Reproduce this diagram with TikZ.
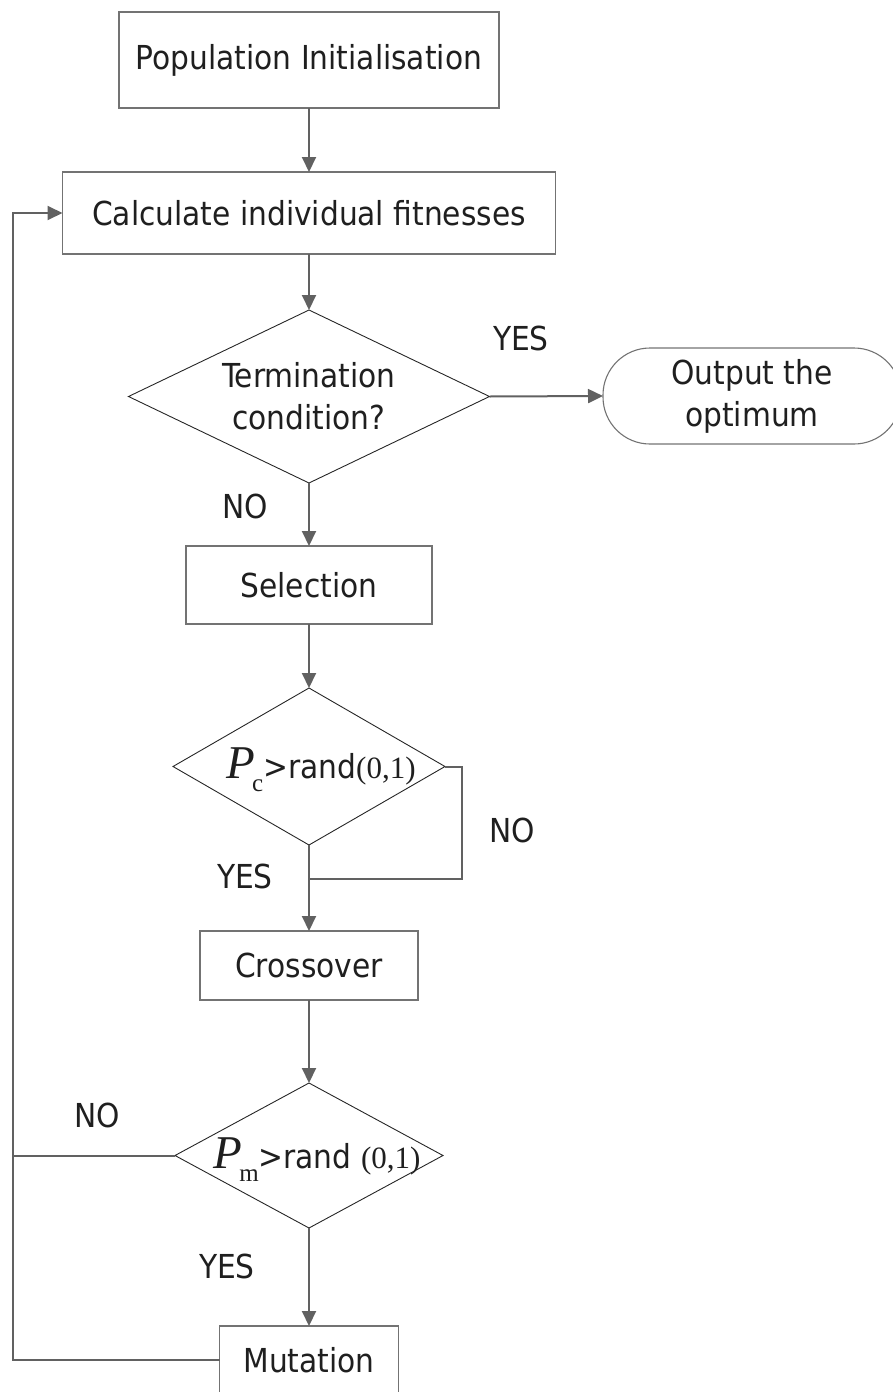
\documentclass[tikz,border=0pt]{standalone}
\usepackage{fontspec}
\setmainfont{DejaVu Sans Condensed}
\newfontfamily\mathserif{Liberation Serif}
\usetikzlibrary{shapes.geometric,arrows.meta}
% probability symbol with subscript, serif like a formula
\newcommand\Pvar[2]{{\mathserif\itshape\fontsize{47}{47}\selectfont #1}\kern-3pt\raisebox{-13pt}{\mathserif\fontsize{25}{25}\selectfont #2}}
\newcommand\numtxt[1]{{\mathserif\fontsize{31}{31}\selectfont #1}}
\begin{document}
\begin{tikzpicture}[x=1pt,y=-1pt,
  every node/.style={font=\fontsize{33}{42}\selectfont, text=black!88, inner sep=0pt, outer sep=0pt},
  procbox/.style={draw=black!55, line width=1.1pt, rectangle},
  decision/.style={draw=black!85, line width=0.9pt, diamond},
  terminal/.style={draw=black!55, line width=1.1pt, rectangle, rounded corners=47pt},
  flow/.style={draw=black!62, line width=2pt, -{Triangle[length=15pt,width=14pt]}},
  link/.style={draw=black!62, line width=2pt},
  ]
\useasboundingbox (0,0) rectangle (892,1392);

% process steps
\node[procbox, minimum width=380, minimum height=96] (pop) at (309,60) {Population Initialisation};
\node[procbox, minimum width=493, minimum height=82] (calc) at (309,213) {Calculate individual fitnesses};
\node[decision, minimum width=361, minimum height=173] (d1) at (309,396.5) {};
\node[align=center] (d1t) at (d1) {Termination\\condition?};
\node[terminal, minimum width=298, minimum height=96, align=center] (out) at (752,396) {Output the\\optimum};
\node[procbox, minimum width=246, minimum height=78] (sel) at (309,585) {Selection};
\node[decision, minimum width=272, minimum height=157] (d2) at (309,766.5) {};
\node[anchor=base] (d2t) at (321,778) {\Pvar{P}{c}>rand\numtxt{(0,1)}};
\node[procbox, minimum width=218, minimum height=69] (cross) at (309,965.5) {Crossover};
\node[decision, minimum width=268, minimum height=145] (d3) at (309,1155.5) {};
\node[anchor=base] (d3t) at (317,1168) {\Pvar{P}{m}>rand \numtxt{(0,1)}};
\node[procbox, minimum width=179, minimum height=68] (mut) at (309,1360) {Mutation};

% helper points of the loops
\coordinate (r1) at (462,879);
\coordinate (j1) at (309,879);
\coordinate (lb) at (13,1360);
\coordinate (lt) at (13,213);

% connectors
\draw[flow] (pop.south) -- (calc.north);
\draw[flow] (calc.south) -- (d1.north);
\draw[flow] (d1.east) -- (out.west);
\draw[flow] (d1.south) -- (sel.north);
\draw[flow] (sel.south) -- (d2.north);
\draw[link] (d2.east) -| (r1) -- (j1);
\draw[flow] (d2.south) -- (cross.north);
\draw[flow] (cross.south) -- (d3.north);
\draw[flow] (d3.south) -- (mut.north);
\draw[link] (d3.west) -- (d3.west -| lb);
\draw[flow] (mut.west) -- (lb) -- (lt) -- (calc.west);

% branch labels
\node (yes1) at (521,338) {YES};
\node (no1) at (245,506) {NO};
\node (no2) at (512,830) {NO};
\node (yes2) at (245,876) {YES};
\node (no3) at (97,1115) {NO};
\node (yes3) at (227,1266) {YES};
\end{tikzpicture}
\end{document}
